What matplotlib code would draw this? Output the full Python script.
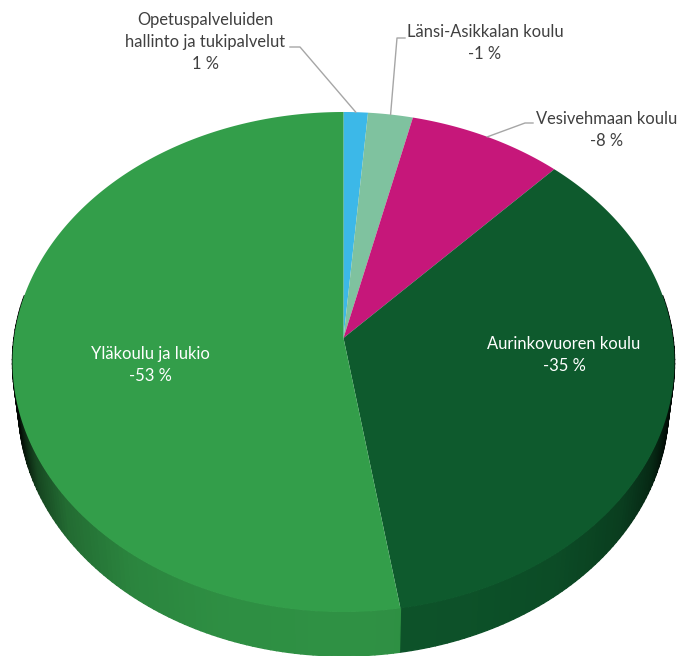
# 3D style pie chart (perspective drawn by hand, matplotlib has no 3D pie)
import numpy as np
import matplotlib
matplotlib.use('Agg')
import matplotlib.pyplot as plt
from matplotlib.collections import PolyCollection
from matplotlib.patches import Polygon

# Data, clockwise from 12 o'clock
names = ['Opetuspalveluiden\nhallinto ja tukipalvelut', 'Länsi-Asikkalan koulu', 'Vesivehmaan koulu',
         'Aurinkovuoren koulu', 'Yläkoulu ja lukio']
shares = [1.3, 2.4, 8.3, 35.5, 52.5]
labels = ['1 %', '-1 %', '-8 %', '-35 %', '-53 %']
colors = ['#3CB8E8', '#7FC29F', '#C6177A', '#0E5A2D', '#339E4A']

plt.rcParams['font.family'] = ['Lato', 'DejaVu Sans']

# Pie geometry in pixels
cx, cy = 343.5, 338
a, b, k = 329.5, 247.7, 0.096
depth = 44
bottom_scale = 0.982


def project(theta, lower=False):
    # theta in degrees clockwise from top, returns picture coordinates
    t = np.radians(theta)
    u, v = np.sin(t), np.cos(t)
    w = 1 + k * v
    x, y = a * u / w, b * v / w
    if lower:
        return cx + x * bottom_scale, cy - y + depth
    return cx + x, cy - y


def side_shade(theta):
    # side wall gets darker towards the left and right ends
    u = np.abs(np.sin(np.radians(theta)))
    return np.interp(u, [0, 0.35, 0.6, 0.8, 0.9, 0.96, 1], [0.92, 0.9, 0.84, 0.68, 0.45, 0.15, 0])


fig = plt.figure(figsize=(6.8, 6.56), dpi=100)
ax = fig.add_axes([0, 0, 1, 1])
ax.set_xlim(0, 680)
ax.set_ylim(656, 0)
ax.axis('off')

edges = np.concatenate([[0], np.cumsum(shares)]) / np.sum(shares) * 360

# side wall
for i in range(len(shares)):
    start, end = max(edges[i], 80), min(edges[i + 1], 280)
    if end <= start:
        continue
    steps = np.linspace(start, end, int(end - start) + 2)
    quads = []
    cols = []
    base = np.array(matplotlib.colors.to_rgb(colors[i]))
    for t0, t1 in zip(steps[:-1], steps[1:]):
        x0, y0 = project(t0)
        x1, y1 = project(t1)
        x2, y2 = project(t1, lower=True)
        x3, y3 = project(t0, lower=True)
        quads.append([(x0, y0), (x1, y1), (x2, y2), (x3, y3)])
        cols.append(base * side_shade((t0 + t1) / 2))
    ax.add_collection(PolyCollection(quads, facecolors=cols, edgecolors=cols, linewidths=1.0))

# top face
for i in range(len(shares)):
    thetas = np.linspace(edges[i], edges[i + 1], int(edges[i + 1] - edges[i]) * 2 + 3)
    xs, ys = project(thetas)
    pts = np.column_stack([np.r_[cx, xs], np.r_[cy, ys]])
    ax.add_patch(Polygon(pts, closed=True, facecolor=colors[i], edgecolor='none', zorder=3))

# leader lines, elbow positions
mids = (edges[:-1] + edges[1:]) / 2
elbows = [[(290, 47), (300, 47)], [(405, 38), (397, 38)], [(533, 123), (525, 123)]]
for elbow, theta in zip(elbows, mids[:3]):
    rx, ry = project(theta)
    ax.plot([elbow[0][0], elbow[1][0], rx], [elbow[0][1], elbow[1][1], ry], color='#A6A6A6', lw=1, zorder=4)

# labels
text_pos = [(205, 42), (485, 43), (607, 130), (564, 355), (150, 365)]
text_col = ['#404040', '#404040', '#404040', 'white', 'white']
for name, lab, pos, col in zip(names, labels, text_pos, text_col):
    ax.text(pos[0], pos[1], name + '\n' + lab, ha='center', va='center', color=col,
            fontsize=11.9, linespacing=1.44, zorder=5)

fig.savefig('out.png', dpi=100)
